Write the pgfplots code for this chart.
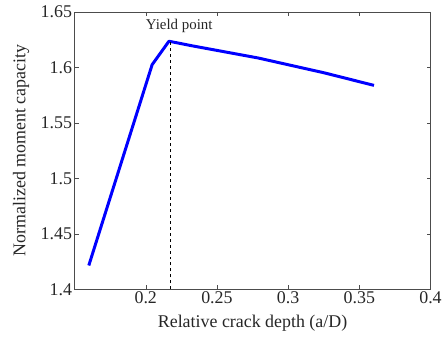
\documentclass[border=0pt]{standalone}
\usepackage{pgfplots}
\pgfplotsset{compat=1.18}
\usepackage{fontspec}
\setmainfont{Liberation Serif}
\begin{document}
\begin{tikzpicture}[x=1pt,y=1pt]
\begin{axis}[
  name=ax,
  scale only axis,
  width=358pt, height=279pt,
  xmin=0.15, xmax=0.4, ymin=1.4, ymax=1.65,
  xtick={0.2,0.25,0.3,0.35,0.4},
  ytick={1.4,1.45,1.5,1.55,1.6,1.65},
  tick align=inside,
  major tick length=4pt,
  /pgf/number format/assume math mode=true,
  /pgf/number format/fixed,
  /pgf/number format/precision=2,
  ticklabel style={font=\fontsize{18}{20}\selectfont, text=black!85},
  xticklabel style={yshift=1pt},
  yticklabel style={xshift=1pt},
  xlabel={Relative crack depth (a/D)},
  ylabel={Normalized moment capacity},
  label style={font=\fontsize{18}{20}\selectfont, text=black!85},
  xlabel style={at={(axis description cs:0.5,0)}, anchor=north, yshift=-22pt},
  ylabel style={at={(axis description cs:0,0.5)}, anchor=south, xshift=0pt, yshift=42pt},
  axis line style={black!70, line width=0.8pt},
  every tick/.style={black!70},
  clip=false,
]
\addplot[blue, line width=3pt, line join=round] coordinates {
  (0.160,1.4215)
  (0.2045,1.6025)
  (0.2163,1.6236)
  (0.2324,1.6195)
  (0.2789,1.6085)
  (0.3254,1.5951)
  (0.3603,1.5838)
};
\addplot[black, dashed, line width=0.8pt] coordinates {(0.217,1.4) (0.217,1.6236)};
\node[font=\fontsize{15}{17}\selectfont, text=black!85] at (axis cs:0.2235,1.6375) {Yield point};
\end{axis}
\path (ax.south west) ++(-75pt,-47pt) coordinate (bl);
\path (ax.north east) ++(12pt,12pt) coordinate (tr);
\useasboundingbox (bl) rectangle (tr);
\end{tikzpicture}
\end{document}
